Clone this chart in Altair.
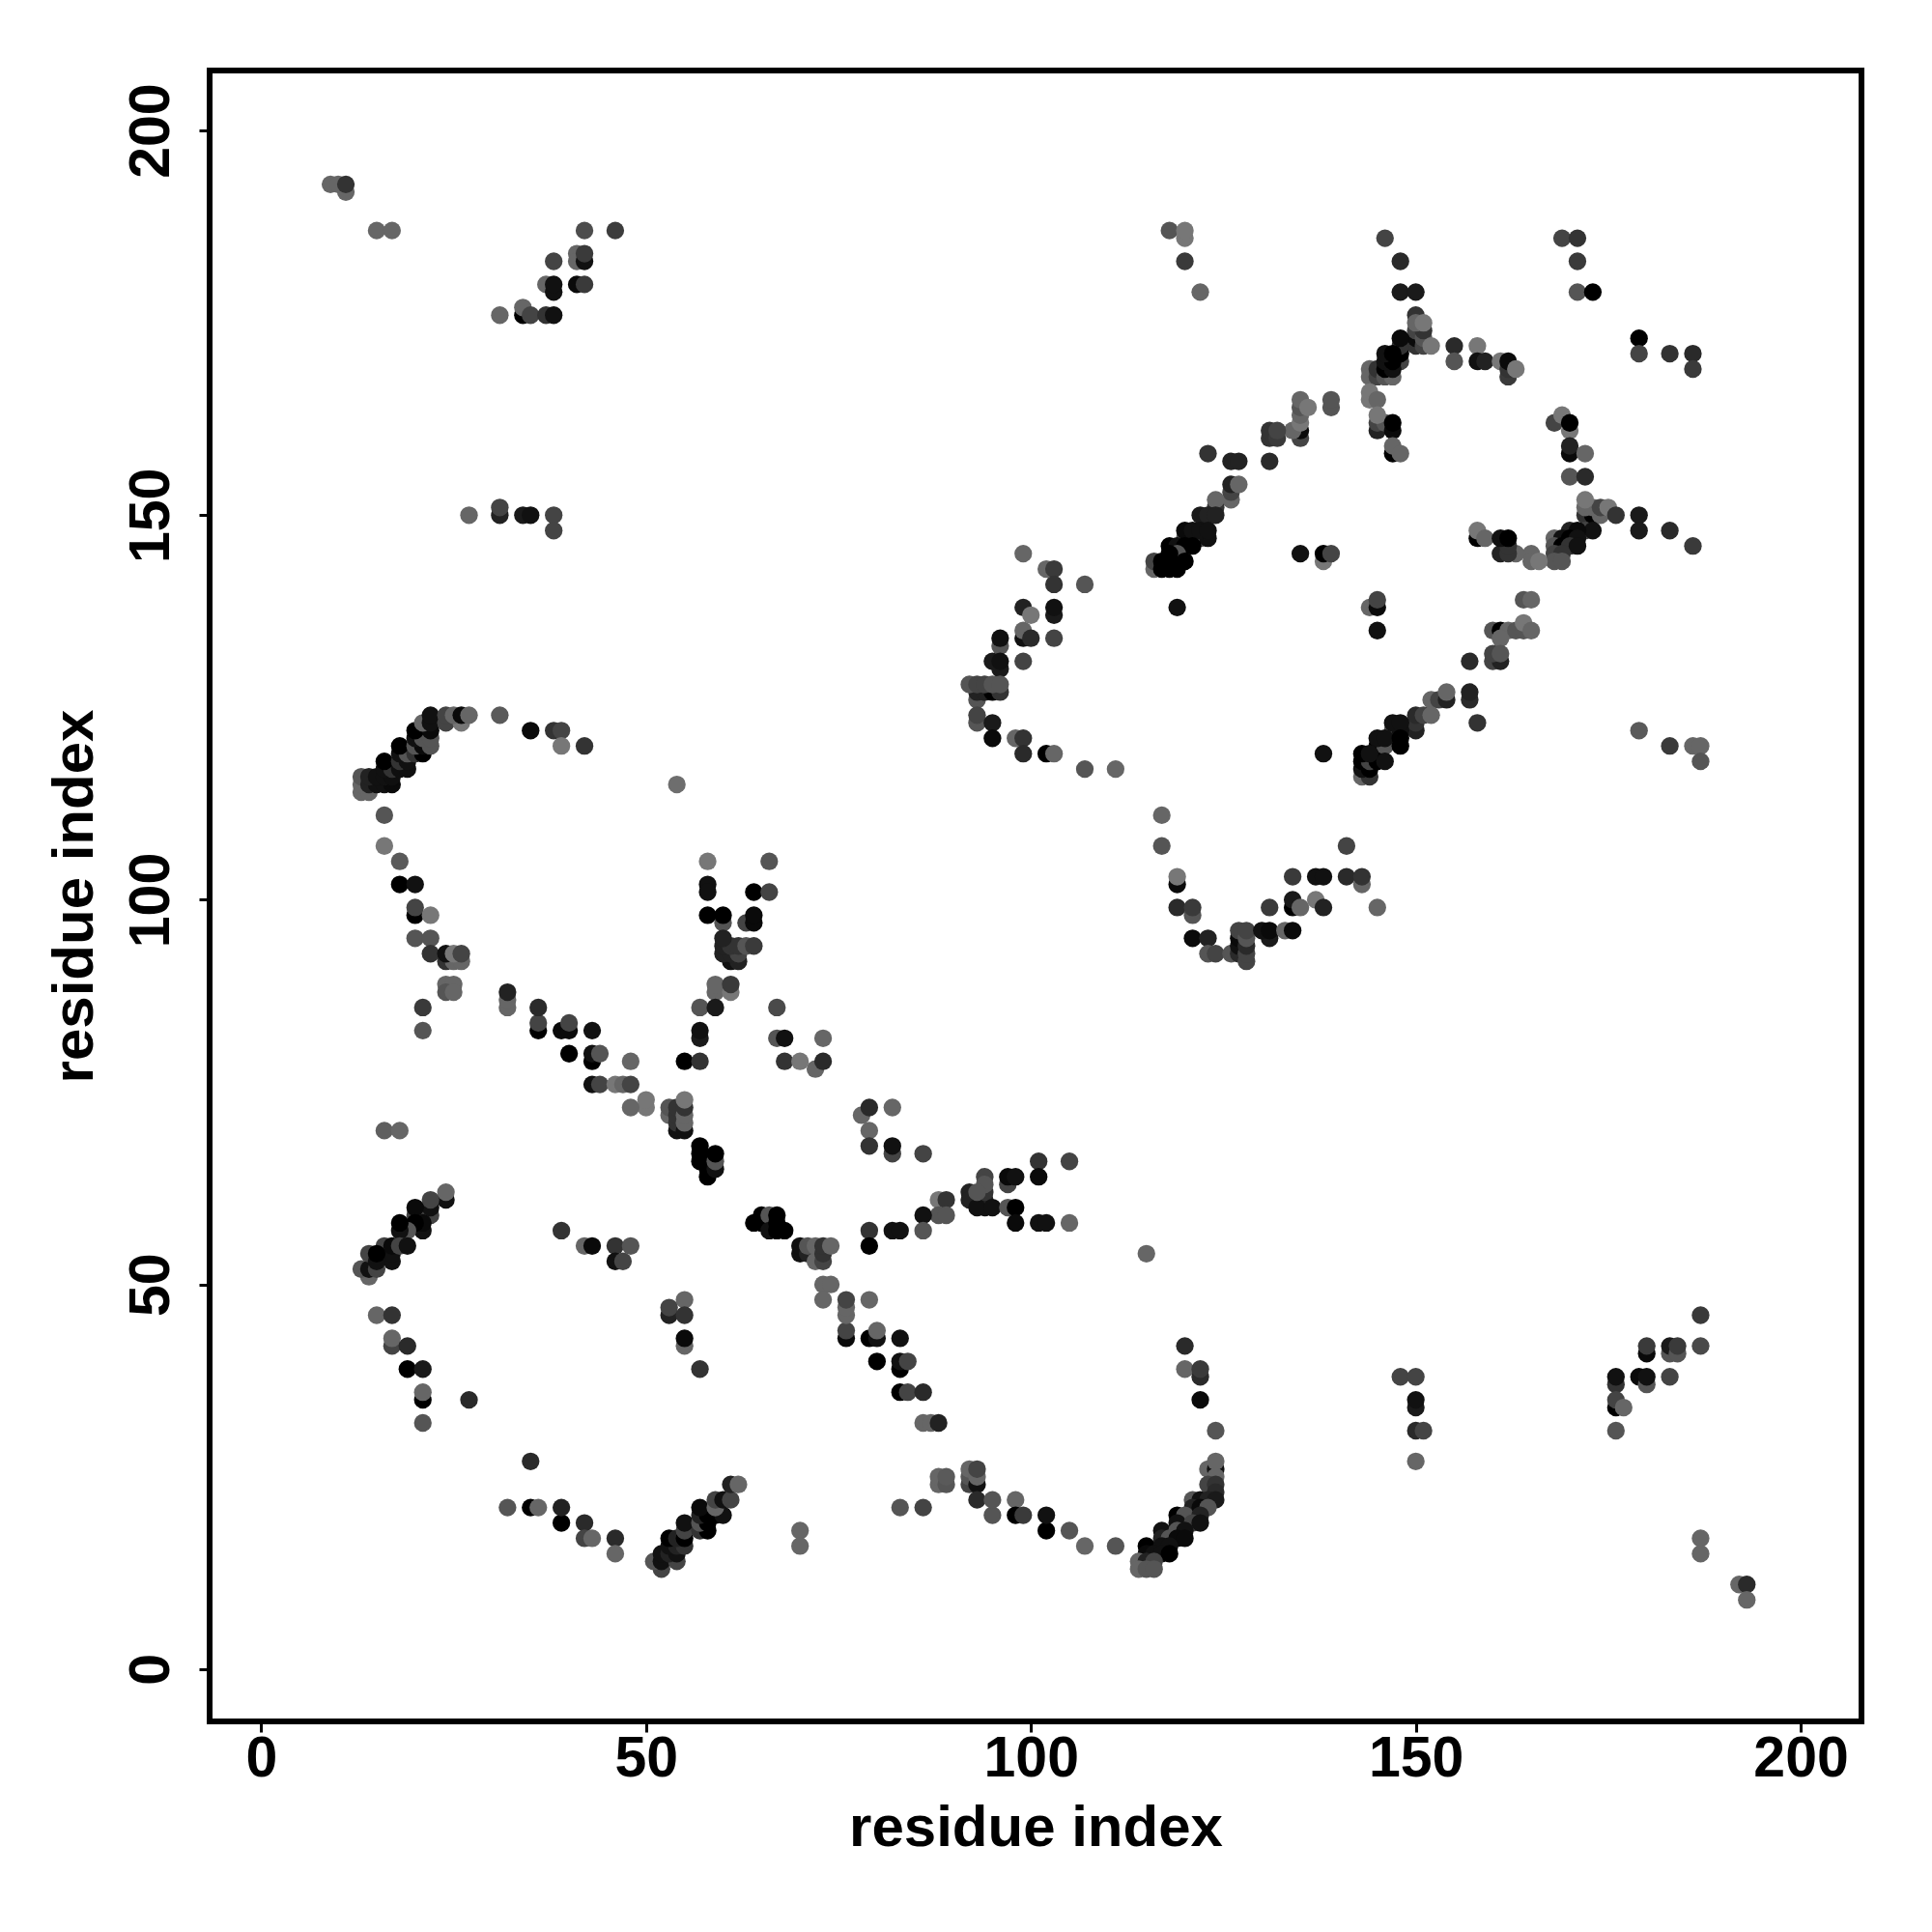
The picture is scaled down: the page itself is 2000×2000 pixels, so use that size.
import altair as alt
import pandas as pd

top_left = [(9,193,"66"),(10,193,"66"),(11,192,"66"),(11,193,"33"),(15,187,"66"),(17,187,"66"),
(42,187,"4d"),(46,187,"3c"),(38,183,"44"),(41,184,"66"),(41,183,"66"),(42,183,"11"),(42,184,"3a"),
(37,180,"66"),(38,179,"11"),(38,180,"11"),(41,180,"0a"),(42,180,"3a"),(31,176,"66"),(34,176,"00"),(34,177,"66"),
(35,176,"44"),(37,176,"33"),(38,176,"11"),(27,150,"66"),(31,150,"22"),(31,151,"44"),(34,150,"1a"),(35,150,"11"),
(38,150,"44"),(38,148,"44")]

arc_upper = [(13,114,"66"),(14,114,"66"),(13,115,"66"),(13,116,"55"),(14,115,"22"),(15,115,"11"),(16,115,"11"),(17,115,"0a"),
(14,116,"22"),(15,116,"11"),(16,116,"11"),(17,116,"0f"),(16,117,"11"),(17,117,"33"),(18,117,"0f"),(19,117,"0f"),
(16,118,"00"),(18,118,"33"),(19,118,"11"),(18,119,"11"),(19,119,"55"),(20,119,"33"),(21,119,"00"),(18,120,"00"),(20,120,"55"),(21,120,"0a"),
(22,120,"55"),(20,121,"11"),(21,121,"55"),(22,121,"55"),(20,122,"00"),(22,122,"0a"),(21,123,"66"),(22,123,"11"),(24,123,"44"),(26,123,"77"),
(22,124,"11"),(24,124,"44"),(25,124,"66"),(26,124,"0a"),(27,124,"66"),(31,124,"5a"),(35,122,"0a"),(38,122,"33"),(39,122,"44"),
(39,120,"77"),(42,120,"33"),(54,115,"6e"),(16,111,"55"),(16,107,"77"),(18,105,"5a"),(18,102,"00"),(20,102,"11"),
(20,98,"00"),(20,99,"44"),(22,98,"77"),(20,95,"55"),(22,95,"55"),(22,93,"33"),(24,92,"33"),(25,92,"66"),(26,92,"66"),(24,93,"11"),(25,93,"77"),(26,93,"44"),
(24,89,"66"),(25,89,"66"),(24,88,"55"),(25,88,"66"),(21,86,"3a"),(21,83,"55")]

diag_upper = [(32,86,"66"),(32,87,"66"),(32,88,"22"),(36,83,"00"),(36,84,"44"),(36,86,"2a"),(39,83,"0a"),(40,83,"0a"),(40,84,"44"),(43,83,"11"),
(40,80,"00"),(43,79,"00"),(43,80,"11"),(44,80,"55"),(48,79,"66"),(43,76,"11"),(44,76,"44"),(46,76,"77"),(47,76,"66"),(48,76,"44"),
(50,73,"77"),(50,74,"77"),(48,73,"66"),(53,72,"66"),(53,73,"55"),(54,70,"11"),(54,71,"33"),(54,72,"33"),(54,73,"33"),(55,70,"11"),(55,71,"66"),(55,72,"66"),(55,73,"33"),(55,74,"77"),
(16,70,"5f"),(18,70,"66"),(58,64,"00"),(58,65,"00"),(57,66,"00"),(57,67,"00"),(57,68,"00"),(59,65,"11"),(59,66,"55"),(59,67,"00")]

fork = [(58,105,"77"),(58,102,"11"),(58,101,"11"),(58,98,"00"),(60,97,"55"),(60,98,"00"),(63,97,"44"),(64,97,"0a"),(64,98,"0a"),(64,101,"00"),(66,105,"55"),(66,101,"44"),
(61,92,"11"),(62,92,"22"),(60,93,"22"),(61,93,"22"),(62,93,"44"),(60,94,"22"),(61,94,"33"),(62,94,"33"),(63,94,"55"),(64,94,"3a"),(60,95,"22"),
(59,88,"66"),(59,89,"66"),(61,88,"77"),(61,89,"3a"),(57,86,"55"),(59,86,"1a"),(57,82,"1a"),(57,83,"11"),(55,79,"00"),(57,79,"33"),
(67,86,"4a"),(67,82,"55"),(68,82,"11"),(73,82,"66"),(68,79,"33"),(70,79,"77"),(72,78,"66"),(73,79,"2a")]

arm = [(78,72,"66"),(79,73,"2a"),(82,73,"66"),(79,70,"66"),(79,68,"33"),(82,67,"44"),(82,68,"11"),(86,67,"44"),
(101,66,"33"),(105,66,"44"),(97,63,"44"),(97,64,"0a"),(98,64,"11"),(101,64,"0a"),(94,64,"44"),(94,60,"11"),(94,61,"22"),(94,62,"33"),(94,63,"55"),
(92,62,"22"),(92,61,"22"),(93,60,"11"),(93,62,"55"),(95,60,"11"),(97,60,"55"),(98,60,"00"),(98,58,"0a"),(101,58,"11"),(102,58,"11"),(105,58,"66"),
(88,61,"77"),(89,61,"33"),(88,59,"55"),(89,59,"55"),(86,59,"11"),(86,57,"55"),(82,57,"11"),(83,57,"11"),(79,57,"33"),(79,55,"00"),(115,54,"66"),
(64,58,"00"),(65,58,"00"),(65,59,"00"),(66,59,"55"),(67,59,"00"),(66,57,"11"),(67,57,"00"),(67,58,"00"),(68,57,"00")]

diag_lower = [(70,54,"11"),(70,55,"11"),(71,54,"22"),(71,55,"55"),(72,53,"66"),(72,55,"66"),(73,53,"44"),(73,54,"33"),(73,55,"33"),(74,55,"66"),
(73,50,"66"),(74,50,"66"),(73,48,"66"),(76,43,"0a"),(76,44,"44"),(76,46,"66"),(76,47,"66"),(76,48,"44"),(79,48,"66"),
(79,43,"00"),(80,43,"11"),(80,44,"66"),(83,43,"11"),(80,40,"00"),(83,39,"00"),(83,40,"11"),(84,40,"44"),(83,36,"00"),(84,36,"44"),(86,36,"2a"),
(86,32,"66"),(87,32,"66"),(88,32,"22")]

lower_left = [(24,61,"11"),(24,62,"66"),(22,59,"44"),(22,60,"11"),(22,61,"44"),(20,59,"44"),(20,60,"0a"),(21,57,"11"),(21,58,"0a"),(20,58,"00"),(19,57,"55"),(18,57,"11"),(18,58,"00"),
(16,54,"22"),(16,55,"44"),(17,53,"11"),(17,54,"11"),(17,55,"0a"),(18,55,"44"),(19,55,"11"),
(14,51,"66"),(13,52,"55"),(14,52,"11"),(15,52,"44"),(14,54,"44"),(15,53,"11"),(15,54,"00"),
(15,46,"66"),(17,46,"33"),(17,42,"44"),(17,43,"66"),(19,42,"2a"),(19,39,"00"),(21,39,"1a"),(21,35,"00"),(21,36,"66"),(27,35,"2a"),(21,32,"55"),
(35,27,"2a"),(32,21,"55"),(35,21,"00"),(36,21,"66"),(39,19,"00"),(39,21,"22"),(42,19,"2a"),(42,17,"44"),(43,17,"66"),(46,17,"2a"),(46,15,"66"),
(39,57,"33"),(42,55,"66"),(43,55,"0a"),(46,55,"33"),(48,55,"55"),(46,53,"11"),(47,53,"44"),
(55,48,"66"),(53,46,"22"),(53,47,"44"),(55,46,"33"),(55,42,"66"),(55,43,"0a"),(57,39,"33")]

diag_bottom = [(52,13,"44"),(51,14,"55"),(52,14,"11"),(54,14,"44"),(52,15,"11"),(53,15,"22"),(54,15,"11"),(53,16,"11"),(54,16,"22"),(55,16,"33"),
(53,17,"00"),(54,17,"22"),(55,17,"00"),(55,18,"44"),(57,18,"33"),(58,18,"00"),(55,19,"11"),(57,19,"55"),(58,19,"00"),(57,20,"22"),(58,20,"00"),(59,20,"00"),(60,20,"11"),
(57,21,"0a"),(59,21,"66"),(59,22,"44"),(60,22,"11"),(61,22,"44"),(61,24,"22"),(62,24,"66")]

lower_mid = [(83,21,"55"),(86,21,"44"),(88,24,"66"),(88,25,"66"),(89,24,"55"),(89,25,"5a"),(92,24,"44"),(92,25,"55"),(92,26,"66"),(93,24,"11"),(93,25,"66"),(93,26,"44"),
(93,22,"2a"),(95,20,"55"),(95,22,"55"),(98,22,"66"),(98,20,"00"),(99,20,"3a"),(102,18,"00"),(102,20,"11"),(105,18,"55"),(107,16,"66"),(111,16,"55"),(70,18,"66"),(70,16,"66")]

arc_lower = [(120,42,"2a"),(120,39,"66"),(122,38,"2a"),(122,39,"3a"),(122,35,"0a"),(124,31,"55"),(123,26,"66"),(124,26,"11"),(124,27,"66"),(124,25,"66"),(123,24,"44"),(124,24,"33"),
(124,23,"2a"),(121,22,"55"),(122,22,"11"),(123,22,"22"),(124,22,"1a"),(121,21,"22"),(122,21,"0a"),(123,21,"55"),(119,20,"00"),(120,20,"55"),(122,20,"22"),(119,19,"11"),(121,19,"44"),(122,19,"11"),
(117,18,"11"),(119,18,"55"),(120,18,"11"),(117,17,"22"),(118,17,"55"),(119,17,"0a"),(120,17,"0a"),(115,16,"00"),(117,16,"11"),(118,16,"11"),(115,15,"0a"),(116,15,"11"),(117,15,"11"),(118,15,"00"),
(114,14,"66"),(115,14,"22"),(116,14,"44"),(114,13,"66"),(115,13,"55"),(116,13,"55")]

lower_right = [(148,38,"44"),(150,38,"44"),(150,34,"1a"),(150,35,"11"),(150,31,"2a"),(151,31,"44"),(150,27,"66"),
(176,37,"33"),(176,38,"11"),(176,34,"00"),(176,35,"44"),(177,34,"66"),(176,31,"55"),(179,38,"0a"),(180,37,"55"),(180,38,"11"),(183,38,"44"),
(180,41,"0a"),(180,42,"3a"),(183,41,"55"),(183,42,"1a"),(184,41,"55"),(184,42,"3a"),(187,42,"4a"),(187,46,"3a"),(187,17,"66"),(187,15,"66"),(192,11,"66"),(193,11,"2a"),(193,9,"66")]

hook = [(99,145,"66"),(102,143,"66"),(103,143,"3a"),(103,141,"33"),(107,141,"55"),(99,138,"22"),(100,137,"77"),(103,137,"1a"),(103,138,"11"),(103,134,"44"),
(99,134,"11"),(99,135,"66"),(100,134,"2a"),(96,133,"55"),(96,134,"11"),(99,131,"44"),(96,130,"1a"),(95,131,"1a"),(96,131,"11"),
(93,126,"55"),(93,127,"22"),(94,127,"22"),(95,127,"00"),(96,127,"33"),(92,128,"55"),(93,128,"44"),(94,128,"44"),(95,128,"55"),(96,128,"55"),
(93,123,"55"),(93,124,"44"),(95,123,"1a"),(95,121,"0a"),(98,121,"66"),(99,121,"33"),(99,119,"2a"),(102,119,"00"),(103,119,"66"),(107,117,"55"),(111,117,"66")]

u_arc = [(117,111,"66"),(117,107,"55"),(119,102,"0a"),(119,103,"77"),(119,99,"2a"),(121,98,"55"),(121,99,"3a"),(121,95,"0a"),(123,95,"22"),(123,93,"55"),(124,93,"44"),(126,93,"55"),
(127,93,"2a"),(127,94,"11"),(127,95,"0a"),(127,96,"44"),(128,92,"44"),(128,93,"44"),(128,94,"2a"),(128,95,"55"),(128,96,"44"),(131,95,"1a"),(130,96,"11"),(131,96,"0a"),(133,96,"66"),(134,96,"0a"),
(131,99,"3a"),(134,103,"3a"),(134,99,"00"),(134,100,"1a"),(135,99,"66"),(137,100,"77"),(138,99,"22"),(137,103,"11"),(138,103,"11"),(141,103,"2a"),(143,102,"66"),(143,103,"33"),(141,107,"44"),(145,99,"66")]

middle = [(119,138,"11"),(135,145,"11"),(138,144,"77"),(138,145,"00"),(139,145,"44"),(144,138,"66"),(145,138,"0a"),(145,139,"44"),(145,135,"11"),(138,119,"11")]

top_mid = [(118,187,"55"),(120,186,"77"),(120,187,"77"),(120,183,"3a"),(122,179,"66"),(146,186,"44"),(148,183,"2a"),(148,179,"1a"),(150,179,"1a"),
(150,172,"33"),(150,173,"0a"),(150,174,"44"),(150,176,"33"),(151,172,"44"),(151,173,"55"),(151,174,"33"),(150,175,"66"),(151,175,"77"),(152,172,"77"),
(148,170,"44"),(148,171,"00"),(148,172,"33"),(148,173,"0a"),(144,169,"66"),(144,168,"66"),(145,168,"44"),(145,169,"33"),(146,168,"55"),(147,168,"66"),(146,169,"00"),(147,169,"11"),(146,170,"11"),(147,170,"00"),(146,171,"11"),(147,171,"00"),
(144,165,"77"),(144,166,"77"),(145,165,"66"),(145,161,"22"),(145,162,"44"),(146,162,"55"),(145,163,"77"),(147,161,"0a"),(147,162,"00"),(147,158,"00"),(147,159,"66"),(148,158,"66"),
(155,172,"2a"),(155,170,"55"),(158,172,"77"),(158,170,"11"),(159,170,"22"),(161,170,"77"),(162,168,"3a"),(162,169,"33"),(162,170,"0a"),(163,169,"77")]

long_diag = [(135,160,"44"),(135,161,"0a"),(134,161,"66"),(135,162,"77"),(135,163,"66"),(135,164,"55"),(135,165,"66"),(136,164,"77"),(139,164,"55"),(139,165,"55"),
(131,160,"33"),(131,161,"33"),(132,160,"3a"),(132,161,"44"),(131,157,"2a"),(123,158,"33"),(126,157,"22"),(127,157,"22"),(126,152,"66"),(126,153,"44"),(126,154,"22"),(127,154,"66"),
(124,151,"33"),(124,152,"66"),(122,150,"1a"),(123,150,"22"),(124,150,"22"),(120,147,"55"),(122,147,"55"),(123,147,"11"),(120,148,"0a"),(121,148,"11"),(122,148,"11"),(123,148,"11"),
(118,146,"00"),(119,146,"11"),(120,146,"00"),(121,146,"00"),(119,145,"55"),(118,145,"00"),(116,143,"66"),(116,144,"44"),(117,143,"00"),(118,143,"00"),(119,143,"00"),(117,144,"00"),(118,144,"00"),(120,144,"00")]

upper_right = [(169,186,"44"),(171,186,"33"),(171,183,"3a"),(171,179,"55"),(173,179,"00"),(179,173,"00"),(179,171,"44"),(183,171,"33"),(186,171,"2a"),(186,169,"3a"),
(168,162,"44"),(169,163,"77"),(170,161,"77"),(170,162,"00"),(170,158,"0a"),(170,159,"22"),(172,158,"66"),(170,155,"55"),(172,155,"2a"),
(172,150,"33"),(173,150,"00"),(174,150,"66"),(172,151,"66"),(173,151,"66"),(174,151,"44"),(175,151,"77"),(172,152,"77"),(176,150,"33"),(179,150,"1a"),(179,148,"1a"),(183,148,"2a"),(186,146,"3a"),
(172,148,"44"),(173,148,"11"),(170,148,"22"),(171,148,"0a"),(168,147,"66"),(169,147,"11"),(170,147,"00"),(171,147,"11"),(168,146,"55"),(169,146,"00"),(170,146,"33"),(171,146,"11"),
(168,145,"44"),(169,145,"33"),(168,144,"55"),(169,144,"55"),(165,145,"66"),(165,144,"66"),(166,144,"77"),(163,145,"66"),
(158,147,"00"),(158,148,"77"),(159,147,"66"),(161,145,"22"),(162,145,"33"),(162,146,"33"),(161,147,"11"),(162,147,"00")]

lower_diag2 = [(164,139,"55"),(165,139,"66"),(160,135,"55"),(161,135,"00"),(162,135,"66"),(161,134,"66"),(163,135,"55"),(164,135,"55"),(164,136,"77"),(165,135,"66"),
(160,131,"44"),(161,131,"22"),(160,132,"44"),(161,132,"55"),(157,131,"2a"),(157,126,"2a"),(157,127,"22"),(158,123,"33"),
(152,126,"66"),(153,126,"44"),(154,126,"22"),(154,127,"66"),(150,122,"22"),(150,123,"33"),(150,124,"2a"),(151,124,"44"),(152,124,"66"),
(147,122,"55"),(148,122,"11"),(147,123,"11"),(148,123,"11"),(145,120,"00"),(146,120,"55"),(148,120,"00"),(145,121,"11"),(146,121,"11"),(148,121,"00"),
(143,116,"66"),(144,116,"33"),(143,117,"11"),(144,117,"00"),(143,118,"00"),(144,118,"44"),(145,118,"00"),(146,118,"11"),(143,119,"00"),(144,119,"11"),
(179,122,"5a"),(183,120,"3a"),(186,120,"66"),(187,120,"66"),(187,118,"55")]

groups = [top_left, arc_upper, diag_upper, fork, arm, diag_lower, lower_left, diag_bottom, lower_mid,
          arc_lower, lower_right, hook, u_arc, middle, top_mid, long_diag, upper_right, lower_diag2]
rows = [p for g in groups for p in g]
data = pd.DataFrame({
    "x": [p[0] for p in rows],
    "y": [p[1] for p in rows],
    "c": ["#" + p[2] * 3 for p in rows],
})
ticks = [0, 50, 100, 150, 200]
font = "Liberation Sans"

x_axis = alt.Axis(values=ticks, grid=False, domain=False, title="residue index", format="d",
                  labelFont=font, labelFontSize=59, labelFontWeight="bold", labelColor="black",
                  titleFont=font, titleFontSize=60, titleFontWeight="bold", titleColor="black",
                  tickColor="black", tickWidth=3, tickSize=11, labelPadding=-2, titlePadding=13, labelFlush=False,
                  labelOverlap=False)
y_axis = alt.Axis(values=ticks, grid=False, domain=False, title="residue index", format="d",
                  labelFont=font, labelFontSize=59, labelFontWeight="bold", labelColor="black", labelAngle=270,
                  labelAlign="center", labelBaseline="bottom",
                  titleFont=font, titleFontSize=60, titleFontWeight="bold", titleColor="black",
                  tickColor="black", tickWidth=3, tickSize=11, labelPadding=20, titlePadding=19, labelFlush=False,
                  labelOverlap=False)

chart = alt.Chart(data).mark_circle(size=335, opacity=1).encode(
    x=alt.X("x:Q", scale=alt.Scale(domain=[-6.7, 207.9], nice=False, zero=False), axis=x_axis),
    y=alt.Y("y:Q", scale=alt.Scale(domain=[-6.8, 207.8], nice=False, zero=False), axis=y_axis),
    color=alt.Color("c:N", scale=None),
    order=alt.value(0),
).properties(
    width=1710, height=1709, background="white",
    padding={"left": 209, "top": 65, "right": 60, "bottom": 200},
    autosize=alt.AutoSizeParams(type="none"),
).configure_view(stroke="black", strokeWidth=6, fill="white")

chart.save("out.html", embed_options={"renderer": "svg", "actions": False})
